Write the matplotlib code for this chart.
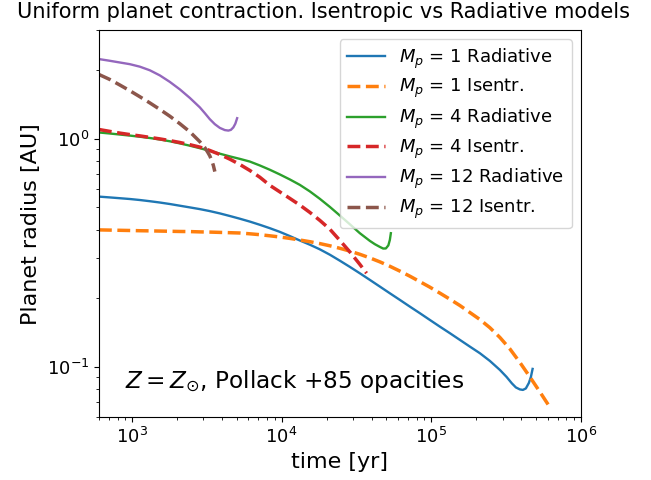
import matplotlib
matplotlib.use("Agg")
import matplotlib.pyplot as plt

# Planet radius [AU] versus time [yr] for each contraction model
t_m1_rad = [600, 709, 827, 965, 1126, 1313, 1532, 1787, 2085, 2432,
            2837, 3309, 3860, 4503, 5253, 6129, 7150, 8341, 9728, 11349,
            13236, 15440, 18010, 21010, 24510, 28590, 33350, 38900, 45380, 52930,
            61750, 72030, 84030, 98010, 114300, 133400, 155600, 181500, 211700, 247000,
            288100, 319300, 346600, 368700, 392000, 410600, 429900, 450300, 464500, 476800]
r_m1_rad = [0.5578, 0.5533, 0.5489, 0.5445, 0.5390, 0.5325, 0.5255, 0.5176, 0.5088, 0.5002,
            0.4916, 0.4818, 0.4707, 0.4585, 0.4461, 0.4333, 0.4195, 0.4053, 0.3905, 0.3742,
            0.3579, 0.3430, 0.3273, 0.3100, 0.2918, 0.2741, 0.2569, 0.2403, 0.2246, 0.2099,
            0.1963, 0.1834, 0.1716, 0.1603, 0.1498, 0.1402, 0.1310, 0.1224, 0.1145, 0.1059,
            0.0967, 0.0901, 0.0844, 0.0810, 0.0794, 0.0790, 0.0802, 0.0848, 0.0901, 0.0977]

t_m1_ise = [600, 709, 827, 965, 1126, 1313, 1532, 1787, 2085, 2432,
            2837, 3309, 3860, 4503, 5253, 6129, 7150, 8341, 9728, 11349,
            13236, 15440, 18010, 21010, 24510, 28590, 33350, 38900, 45380, 52930,
            61750, 72030, 84030, 98010, 114300, 133400, 155600, 181500, 211700, 247000,
            288100, 336100, 392000, 457300, 533600, 622300]
r_m1_ise = [0.3984, 0.3976, 0.3968, 0.3960, 0.3951, 0.3945, 0.3937, 0.3929, 0.3921, 0.3917,
            0.3905, 0.3897, 0.3885, 0.3873, 0.3861, 0.3830, 0.3796, 0.3753, 0.3708, 0.3656,
            0.3597, 0.3536, 0.3469, 0.3393, 0.3308, 0.3215, 0.3113, 0.3002, 0.2884, 0.2758,
            0.2627, 0.2495, 0.2361, 0.2233, 0.2103, 0.1977, 0.1855, 0.1728, 0.1610, 0.1482,
            0.1343, 0.1196, 0.1043, 0.0901, 0.0774, 0.0663]

t_m4_rad = [600, 709, 827, 965, 1126, 1313, 1532, 1787, 2085, 2432,
            2837, 3309, 3860, 4503, 5253, 6129, 7150, 8341, 9728, 11349,
            13236, 15440, 18010, 21010, 24510, 28590, 33350, 38900, 42010, 45380,
            47740, 49770, 51720, 52930, 53750]
r_m4_rad = [1.067, 1.056, 1.045, 1.034, 1.022, 1.009, 0.9940, 0.9761, 0.9555, 0.9335,
            0.9103, 0.8859, 0.8610, 0.8378, 0.8170, 0.7950, 0.7643, 0.7318, 0.6979, 0.6635,
            0.6281, 0.5880, 0.5455, 0.5027, 0.4608, 0.4217, 0.3853, 0.3565, 0.3448, 0.3354,
            0.3300, 0.3303, 0.3407, 0.3601, 0.3853]

t_m4_ise = [600, 709, 827, 965, 1126, 1313, 1532, 1787, 2085, 2432,
            2837, 3309, 3860, 4503, 5253, 6129, 7150, 8341, 9728, 11349,
            13236, 15440, 18010, 21010, 24510, 28590, 33350, 36980]
r_m4_ise = [1.0997, 1.0788, 1.0604, 1.0445, 1.0309, 1.0153, 1.0000, 0.9829, 0.9643, 0.9430,
            0.9204, 0.8894, 0.8541, 0.8146, 0.7720, 0.7266, 0.6785, 0.6250, 0.5851, 0.5477,
            0.5121, 0.4755, 0.4386, 0.4012, 0.3582, 0.3189, 0.2811, 0.2571]

t_m12_rad = [600, 709, 827, 965, 1126, 1313, 1532, 1787, 2085, 2432,
             2837, 3064, 3309, 3574, 3860, 4171, 4400, 4574, 4753, 4902, 5039]
r_m12_rad = [2.2414, 2.2029, 2.1654, 2.1287, 2.0757, 2.0013, 1.9006, 1.7795, 1.6498, 1.5135,
             1.3752, 1.2971, 1.2203, 1.1603, 1.1176, 1.0930, 1.0876, 1.0952, 1.1233, 1.1662,
             1.2328]

t_m12_ise = [600, 709, 827, 965, 1126, 1313, 1532, 1787, 2085, 2432,
             2837, 3064, 3209, 3309, 3414, 3493, 3574]
r_m12_ise = [1.9179, 1.8238, 1.7247, 1.6280, 1.5317, 1.4392, 1.3476, 1.2580, 1.1662, 1.0745,
             0.9721, 0.9149, 0.8723, 0.8421, 0.8006, 0.7650, 0.7184]

labels = [r"$M_p$ = 1 Radiative", r"$M_p$ = 1 Isentr.",
          r"$M_p$ = 4 Radiative", r"$M_p$ = 4 Isentr.",
          r"$M_p$ = 12 Radiative", r"$M_p$ = 12 Isentr."]

fig = plt.figure(figsize=(6.51, 4.8), dpi=100)
ax = fig.add_axes([0.152, 0.131, 0.740, 0.806])

series = [(t_m1_rad, r_m1_rad, "-"), (t_m1_ise, r_m1_ise, "--"),
          (t_m4_rad, r_m4_rad, "-"), (t_m4_ise, r_m4_ise, "--"),
          (t_m12_rad, r_m12_rad, "-"), (t_m12_ise, r_m12_ise, "--")]
for i, (t, r, ls) in enumerate(series):
    lw = 1.7 if ls == "-" else 2.5
    ax.plot(t, r, ls, color=f"C{i}", lw=lw, label=labels[i])

ax.set_xscale("log")
ax.set_yscale("log")
ax.set_xlim(600, 1e6)
ax.set_ylim(0.06, 3.0)
ax.tick_params(labelsize=13)
ax.set_xlabel("time [yr]", fontsize=16)
ax.set_ylabel("Planet radius [AU]", fontsize=16)
fig.suptitle("Uniform planet contraction. Isentropic vs Radiative models",
             fontsize=15, x=0.497, y=0.995)
ax.text(0.055, 0.075, r"$Z = Z_{\odot}$, Pollack +85 opacities",
        transform=ax.transAxes, fontsize=16.7)
ax.legend(loc="upper right", fontsize=13, labelspacing=0.36, handlelength=2.1)

fig.savefig("out.png", dpi=100)
